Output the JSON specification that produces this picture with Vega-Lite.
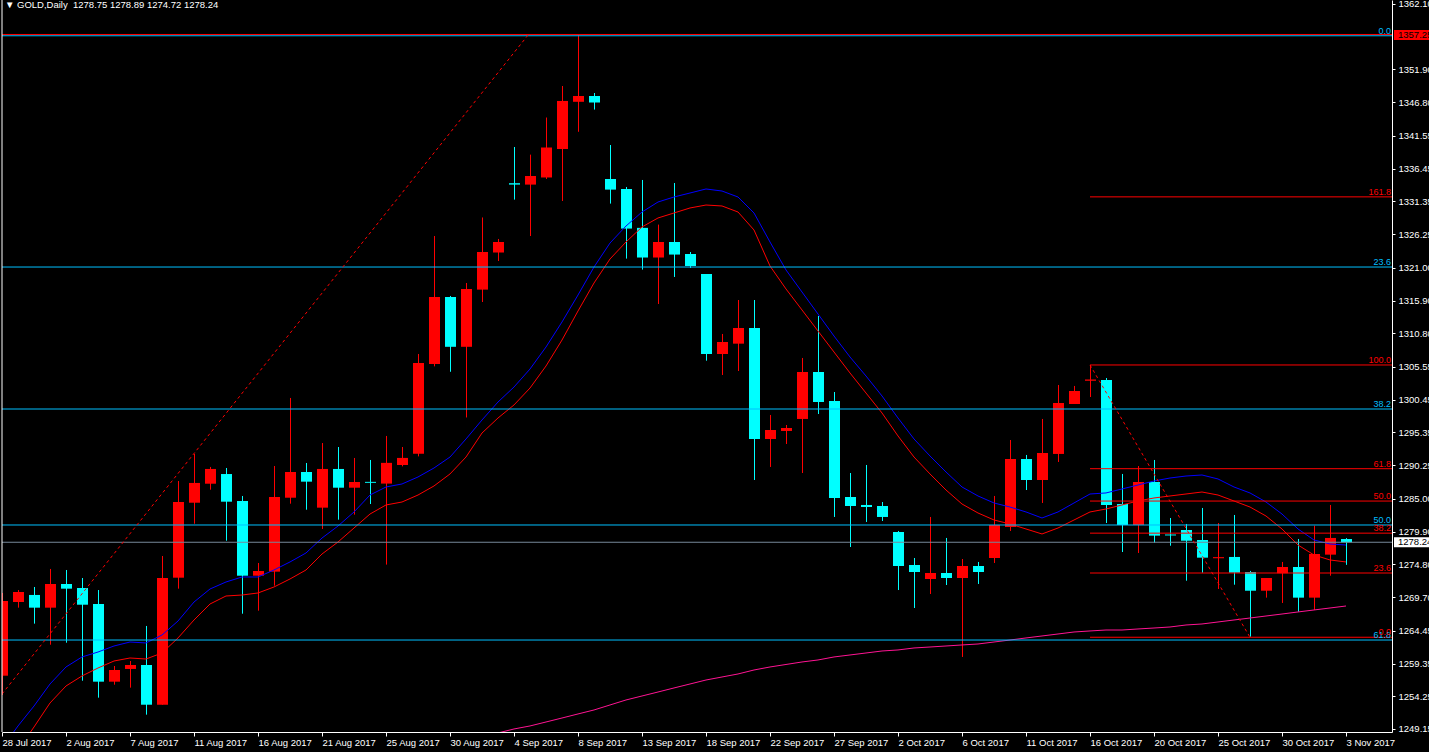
{
  "$schema": "https://vega.github.io/schema/vega-lite/v6.json",
  "width": 1390,
  "height": 732,
  "autosize": {"type": "none"},
  "padding": {"left": 2, "top": 0, "right": 37, "bottom": 20},
  "background": "#000000",
  "config": {"view": {"stroke": null}, "font": "Liberation Sans"},
  "title": {
    "text": "▼ GOLD,Daily\u00a0\u00a01278.75 1278.89 1274.72 1278.24",
    "anchor": "start",
    "orient": "top",
    "frame": "group",
    "offset": -19,
    "baseline": "alphabetic",
    "dx": 3,
    "color": "#FFFFFF",
    "font": "Liberation Sans",
    "fontSize": 9.5,
    "fontWeight": "normal"
  },
  "datasets": {
    "candles": [
      {"i":0,"d":"2017-07-28","o":1257.45,"h":1270.34,"l":1254.45,"c":1269.09,"b":1246.19,"r":1242.76,"m":null},
      {"i":1,"d":"2017-07-30","o":1268.93,"h":1270.80,"l":1268.05,"c":1270.49,"b":1249.62,"r":1245.88,"m":null},
      {"i":2,"d":"2017-07-31","o":1270.03,"h":1271.27,"l":1265.56,"c":1268.05,"b":1252.73,"r":1249.46,"m":null},
      {"i":3,"d":"2017-08-01","o":1268.05,"h":1274.08,"l":1262.28,"c":1271.74,"b":1256.16,"r":1253.20,"m":null},
      {"i":4,"d":"2017-08-02","o":1271.74,"h":1273.92,"l":1262.59,"c":1271.01,"b":1258.81,"r":1255.85,"m":null},
      {"i":5,"d":"2017-08-03","o":1271.11,"h":1272.67,"l":1256.67,"c":1268.51,"b":1260.37,"r":1257.41,"m":null},
      {"i":6,"d":"2017-08-04","o":1268.62,"h":1270.80,"l":1254.03,"c":1256.52,"b":1261.14,"r":1258.65,"m":null},
      {"i":7,"d":"2017-08-06","o":1256.52,"h":1258.96,"l":1256.05,"c":1258.34,"b":1262.08,"r":1259.74,"m":null},
      {"i":8,"d":"2017-08-07","o":1258.50,"h":1259.74,"l":1255.59,"c":1259.12,"b":1262.70,"r":1260.21,"m":null},
      {"i":9,"d":"2017-08-08","o":1259.12,"h":1265.20,"l":1251.38,"c":1252.93,"b":1262.55,"r":1260.05,"m":null},
      {"i":10,"d":"2017-08-09","o":1252.93,"h":1276.10,"l":1252.93,"c":1272.67,"b":1263.79,"r":1260.99,"m":null},
      {"i":11,"d":"2017-08-10","o":1272.72,"h":1287.78,"l":1271.01,"c":1284.51,"b":1265.97,"r":1263.33,"m":null},
      {"i":12,"d":"2017-08-11","o":1284.40,"h":1292.00,"l":1281.13,"c":1287.48,"b":1268.93,"r":1266.13,"m":null},
      {"i":13,"d":"2017-08-13","o":1287.36,"h":1289.97,"l":1286.43,"c":1289.66,"b":1270.96,"r":1268.62,"m":null},
      {"i":14,"d":"2017-08-14","o":1288.87,"h":1289.81,"l":1278.48,"c":1284.56,"b":1272.05,"r":1269.87,"m":null},
      {"i":15,"d":"2017-08-15","o":1284.67,"h":1285.45,"l":1267.11,"c":1273.03,"b":1272.83,"r":1270.02,"m":null},
      {"i":16,"d":"2017-08-16","o":1273.03,"h":1275.01,"l":1267.58,"c":1273.76,"b":1272.83,"r":1270.34,"m":null},
      {"i":17,"d":"2017-08-17","o":1273.66,"h":1290.12,"l":1271.48,"c":1285.29,"b":1273.92,"r":1271.27,"m":null},
      {"i":18,"d":"2017-08-18","o":1285.18,"h":1300.72,"l":1284.25,"c":1289.19,"b":1275.17,"r":1272.52,"m":null},
      {"i":19,"d":"2017-08-20","o":1289.19,"h":1290.59,"l":1283.31,"c":1287.68,"b":1276.57,"r":1273.92,"m":null},
      {"i":20,"d":"2017-08-21","o":1283.63,"h":1293.70,"l":1280.31,"c":1289.66,"b":1278.90,"r":1276.41,"m":null},
      {"i":21,"d":"2017-08-22","o":1289.66,"h":1293.08,"l":1281.76,"c":1286.74,"b":1280.77,"r":1278.28,"m":null},
      {"i":22,"d":"2017-08-23","o":1286.74,"h":1291.37,"l":1282.54,"c":1287.63,"b":1282.96,"r":1280.46,"m":null},
      {"i":23,"d":"2017-08-24","o":1287.65,"h":1291.06,"l":1284.20,"c":1287.50,"b":1285.60,"r":1282.64,"m":null},
      {"i":24,"d":"2017-08-25","o":1287.38,"h":1294.80,"l":1274.76,"c":1290.61,"b":1286.85,"r":1284.05,"m":null},
      {"i":25,"d":"2017-08-27","o":1290.28,"h":1293.08,"l":1290.06,"c":1291.38,"b":1287.32,"r":1284.51,"m":null},
      {"i":26,"d":"2017-08-28","o":1292.01,"h":1307.57,"l":1291.62,"c":1306.18,"b":1288.41,"r":1285.60,"m":null},
      {"i":27,"d":"2017-08-29","o":1306.01,"h":1325.95,"l":1305.64,"c":1316.45,"b":1289.81,"r":1287.01,"m":null},
      {"i":28,"d":"2017-08-30","o":1316.45,"h":1316.61,"l":1304.80,"c":1308.69,"b":1291.52,"r":1288.88,"m":null},
      {"i":29,"d":"2017-08-31","o":1308.69,"h":1318.63,"l":1297.68,"c":1317.70,"b":1294.33,"r":1291.52,"m":null},
      {"i":30,"d":"2017-09-01","o":1317.60,"h":1328.84,"l":1315.67,"c":1323.46,"b":1297.29,"r":1295.26,"m":null},
      {"i":31,"d":"2017-09-03","o":1323.38,"h":1325.49,"l":1322.06,"c":1325.02,"b":1300.09,"r":1297.60,"m":1248.53},
      {"i":32,"d":"2017-09-04","o":1334.18,"h":1339.82,"l":1331.62,"c":1333.96,"b":1302.43,"r":1299.63,"m":1249.15},
      {"i":33,"d":"2017-09-05","o":1333.96,"h":1338.63,"l":1325.95,"c":1335.30,"b":1305.23,"r":1302.27,"m":1249.62},
      {"i":34,"d":"2017-09-06","o":1335.07,"h":1344.41,"l":1334.83,"c":1339.74,"b":1308.66,"r":1305.70,"m":1250.24},
      {"i":35,"d":"2017-09-07","o":1339.51,"h":1349.32,"l":1331.41,"c":1346.99,"b":1312.56,"r":1309.75,"m":1250.86},
      {"i":36,"d":"2017-09-08","o":1346.86,"h":1357.25,"l":1342.19,"c":1347.76,"b":1316.76,"r":1314.27,"m":1251.49},
      {"i":37,"d":"2017-09-10","o":1347.76,"h":1348.23,"l":1345.65,"c":1346.75,"b":1321.12,"r":1318.63,"m":1252.11},
      {"i":38,"d":"2017-09-11","o":1334.83,"h":1340.13,"l":1331.00,"c":1333.18,"b":1324.86,"r":1322.37,"m":1252.89},
      {"i":39,"d":"2017-09-12","o":1333.28,"h":1333.59,"l":1322.43,"c":1327.11,"b":1327.51,"r":1325.02,"m":1253.67},
      {"i":40,"d":"2017-09-13","o":1327.22,"h":1334.68,"l":1320.72,"c":1322.60,"b":1329.69,"r":1327.36,"m":1254.29},
      {"i":41,"d":"2017-09-14","o":1322.60,"h":1327.73,"l":1315.36,"c":1325.02,"b":1331.25,"r":1328.76,"m":1254.91},
      {"i":42,"d":"2017-09-15","o":1325.02,"h":1334.21,"l":1319.57,"c":1323.06,"b":1332.03,"r":1329.54,"m":1255.54},
      {"i":43,"d":"2017-09-17","o":1323.15,"h":1323.46,"l":1320.97,"c":1321.28,"b":1332.65,"r":1330.32,"m":1256.16},
      {"i":44,"d":"2017-09-18","o":1320.03,"h":1320.03,"l":1306.53,"c":1307.57,"b":1333.28,"r":1330.78,"m":1256.78},
      {"i":45,"d":"2017-09-19","o":1307.57,"h":1310.69,"l":1304.30,"c":1309.44,"b":1332.96,"r":1330.63,"m":1257.25},
      {"i":46,"d":"2017-09-20","o":1309.18,"h":1315.98,"l":1304.92,"c":1311.62,"b":1332.03,"r":1329.69,"m":1257.72},
      {"i":47,"d":"2017-09-21","o":1311.62,"h":1315.98,"l":1287.94,"c":1294.33,"b":1329.54,"r":1326.89,"m":1258.34},
      {"i":48,"d":"2017-09-22","o":1294.33,"h":1298.07,"l":1289.97,"c":1295.73,"b":1325.02,"r":1321.28,"m":1258.81},
      {"i":49,"d":"2017-09-24","o":1295.58,"h":1296.51,"l":1293.55,"c":1296.04,"b":1320.66,"r":1317.70,"m":1259.20},
      {"i":50,"d":"2017-09-25","o":1297.45,"h":1306.95,"l":1289.03,"c":1304.77,"b":1317.23,"r":1314.43,"m":1259.59},
      {"i":51,"d":"2017-09-26","o":1304.77,"h":1313.49,"l":1298.22,"c":1300.09,"b":1313.80,"r":1311.15,"m":1259.90},
      {"i":52,"d":"2017-09-27","o":1300.25,"h":1301.65,"l":1282.18,"c":1285.14,"b":1310.37,"r":1307.88,"m":1260.37},
      {"i":53,"d":"2017-09-28","o":1285.29,"h":1289.03,"l":1277.50,"c":1283.89,"b":1307.10,"r":1304.61,"m":1260.68},
      {"i":54,"d":"2017-09-29","o":1284.05,"h":1290.28,"l":1281.40,"c":1283.73,"b":1304.14,"r":1301.49,"m":1260.99},
      {"i":55,"d":"2017-10-01","o":1283.89,"h":1284.51,"l":1281.55,"c":1282.18,"b":1301.03,"r":1298.38,"m":1261.30},
      {"i":56,"d":"2017-10-02","o":1279.84,"h":1280.00,"l":1270.80,"c":1274.54,"b":1297.60,"r":1294.80,"m":1261.46},
      {"i":57,"d":"2017-10-03","o":1274.70,"h":1275.79,"l":1268.00,"c":1273.61,"b":1294.33,"r":1291.52,"m":1261.77},
      {"i":58,"d":"2017-10-04","o":1272.52,"h":1282.18,"l":1270.18,"c":1273.45,"b":1291.68,"r":1288.88,"m":1261.92},
      {"i":59,"d":"2017-10-05","o":1273.45,"h":1278.91,"l":1271.58,"c":1272.67,"b":1289.19,"r":1286.38,"m":1262.08},
      {"i":60,"d":"2017-10-06","o":1272.67,"h":1275.63,"l":1260.37,"c":1274.54,"b":1286.85,"r":1284.20,"m":1262.24},
      {"i":61,"d":"2017-10-08","o":1274.54,"h":1275.17,"l":1271.74,"c":1273.61,"b":1285.45,"r":1282.80,"m":1262.39},
      {"i":62,"d":"2017-10-09","o":1275.79,"h":1285.45,"l":1275.01,"c":1280.93,"b":1284.36,"r":1281.71,"m":1262.70},
      {"i":63,"d":"2017-10-10","o":1280.62,"h":1294.17,"l":1280.00,"c":1291.21,"b":1283.73,"r":1281.09,"m":1263.01},
      {"i":64,"d":"2017-10-11","o":1291.21,"h":1291.84,"l":1286.38,"c":1287.94,"b":1282.96,"r":1280.31,"m":1263.33},
      {"i":65,"d":"2017-10-12","o":1287.94,"h":1297.45,"l":1284.36,"c":1292.15,"b":1282.02,"r":1279.53,"m":1263.64},
      {"i":66,"d":"2017-10-13","o":1292.00,"h":1302.74,"l":1290.75,"c":1299.94,"b":1282.96,"r":1280.46,"m":1263.95},
      {"i":67,"d":"2017-10-15","o":1299.78,"h":1302.59,"l":1299.78,"c":1301.81,"b":1284.36,"r":1281.71,"m":1264.26},
      {"i":68,"d":"2017-10-16","o":1303.40,"h":1305.86,"l":1300.87,"c":1303.60,"b":1285.76,"r":1282.96,"m":1264.42},
      {"i":69,"d":"2017-10-17","o":1303.52,"h":1303.83,"l":1281.24,"c":1284.05,"b":1285.92,"r":1283.42,"m":1264.57},
      {"i":70,"d":"2017-10-18","o":1284.20,"h":1288.88,"l":1276.72,"c":1280.93,"b":1286.54,"r":1284.05,"m":1264.57},
      {"i":71,"d":"2017-10-19","o":1280.93,"h":1290.12,"l":1276.57,"c":1287.63,"b":1287.16,"r":1284.67,"m":1264.73},
      {"i":72,"d":"2017-10-20","o":1287.63,"h":1291.06,"l":1278.17,"c":1279.27,"b":1287.78,"r":1285.14,"m":1264.88},
      {"i":73,"d":"2017-10-22","o":1279.45,"h":1282.02,"l":1277.70,"c":1279.30,"b":1288.25,"r":1285.45,"m":1265.04},
      {"i":74,"d":"2017-10-23","o":1280.15,"h":1281.09,"l":1272.25,"c":1278.48,"b":1288.56,"r":1285.76,"m":1265.35},
      {"i":75,"d":"2017-10-24","o":1278.59,"h":1283.58,"l":1273.50,"c":1275.84,"b":1288.72,"r":1286.07,"m":1265.51},
      {"i":76,"d":"2017-10-25","o":1275.75,"h":1281.24,"l":1270.96,"c":1275.92,"b":1288.10,"r":1285.60,"m":1265.82},
      {"i":77,"d":"2017-10-26","o":1275.95,"h":1282.49,"l":1271.63,"c":1273.50,"b":1286.85,"r":1284.67,"m":1266.13},
      {"i":78,"d":"2017-10-27","o":1273.61,"h":1273.77,"l":1263.53,"c":1270.69,"b":1285.92,"r":1283.73,"m":1266.44},
      {"i":79,"d":"2017-10-29","o":1270.69,"h":1272.67,"l":1269.61,"c":1272.67,"b":1284.51,"r":1282.33,"m":1266.75},
      {"i":80,"d":"2017-10-30","o":1273.41,"h":1275.17,"l":1268.78,"c":1274.39,"b":1282.64,"r":1280.31,"m":1267.06},
      {"i":81,"d":"2017-10-31","o":1274.39,"h":1278.75,"l":1267.42,"c":1269.61,"b":1280.31,"r":1277.81,"m":1267.38},
      {"i":82,"d":"2017-11-01","o":1269.61,"h":1280.82,"l":1267.69,"c":1276.41,"b":1278.59,"r":1276.26,"m":1267.69},
      {"i":83,"d":"2017-11-02","o":1276.31,"h":1284.05,"l":1273.03,"c":1278.91,"b":1277.97,"r":1275.48,"m":1268.00},
      {"i":84,"d":"2017-11-03","o":1278.75,"h":1278.89,"l":1274.72,"c":1278.24,"b":1277.81,"r":1275.17,"m":1268.31}
    ],
    "hfull": [
      {"p":1357.35,"k":"red"},
      {"p":1357.15,"k":"fib"},
      {"p":1321.12,"k":"fib"},
      {"p":1299.00,"k":"fib"},
      {"p":1280.93,"k":"fib"},
      {"p":1263.01,"k":"fib"},
      {"p":1278.24,"k":"price"}
    ],
    "fibred": [
      {"p":1332.05,"t":"161.8","from":68},
      {"p":1305.86,"t":"100.0","from":68},
      {"p":1289.70,"t":"61.8","from":68},
      {"p":1284.66,"t":"50.0","from":68},
      {"p":1279.66,"t":"38.2","from":68},
      {"p":1273.45,"t":"23.6","from":68},
      {"p":1263.44,"t":"0.0","from":68}
    ],
    "fiblabels": [
      {"p":1357.15,"t":"0.0","k":"fib"},
      {"p":1321.12,"t":"23.6","k":"fib"},
      {"p":1299.00,"t":"38.2","k":"fib"},
      {"p":1280.93,"t":"50.0","k":"fib"},
      {"p":1263.01,"t":"61.8","k":"fib"},
      {"p":1332.05,"t":"161.8","k":"red"},
      {"p":1305.86,"t":"100.0","k":"red"},
      {"p":1289.70,"t":"61.8","k":"red"},
      {"p":1284.66,"t":"50.0","k":"red"},
      {"p":1279.66,"t":"38.2","k":"red"},
      {"p":1273.45,"t":"23.6","k":"red"},
      {"p":1263.44,"t":"0.0","k":"red"}
    ],
    "diag": [
      {"g":"a","i":0,"p":1254.60},
      {"g":"a","i":32.875,"p":1357.25},
      {"g":"b","i":68,"p":1305.86},
      {"g":"b","i":78,"p":1263.44}
    ],
    "boxes": [
      {"p":1357.25,"t":"1357.25","k":"red"},
      {"p":1278.24,"t":"1278.24","k":"price"}
    ]
  },
  "layer": [
    {
      "data": {"name": "candles"},
      "mark": {"type": "rule", "strokeWidth": 1, "xOffset": 0.5, "clip": true},
      "encoding": {
        "x": {
          "field": "i", "type": "quantitative",
          "scale": {"domain": [0, 86.875], "nice": false, "zero": false, "padding": 0},
          "axis": {
            "orient": "bottom", "title": null, "grid": false,
            "values": [0,4,8,12,16,20,24,28,32,36,40,44,48,52,56,60,64,68,72,76,80,84],
            "labelExpr": "['28 Jul 2017','2 Aug 2017','7 Aug 2017','11 Aug 2017','16 Aug 2017','21 Aug 2017','25 Aug 2017','30 Aug 2017','4 Sep 2017','8 Sep 2017','13 Sep 2017','18 Sep 2017','22 Sep 2017','27 Sep 2017','2 Oct 2017','6 Oct 2017','11 Oct 2017','16 Oct 2017','20 Oct 2017','25 Oct 2017','30 Oct 2017','3 Nov 2017'][round(datum.value/4)]",
            "domainColor": "#FFFFFF", "tickColor": "#FFFFFF", "tickSize": 4,
            "labelColor": "#FFFFFF", "labelFont": "Liberation Sans", "labelFontSize": 9.5,
            "labelAlign": "left", "labelBaseline": "top", "labelPadding": 1, "labelDx": 1,
            "labelOverlap": false, "labelFlush": false, "labelBound": false
          }
        },
        "y": {
          "field": "l", "type": "quantitative",
          "scale": {"domain": [1248.68, 1362.72], "nice": false, "zero": false, "padding": 0},
          "axis": {
            "orient": "right", "title": null, "grid": false,
            "values": [1249.15,1254.25,1259.35,1264.45,1269.70,1274.80,1279.90,1285.00,1290.25,1295.35,1300.45,1305.55,1310.80,1315.90,1321.00,1326.25,1331.35,1336.45,1341.55,1346.80,1351.90,1362.10],
            "format": ".2f",
            "domainColor": "#FFFFFF", "tickColor": "#FFFFFF", "tickSize": 3,
            "labelColor": "#FFFFFF", "labelFont": "Liberation Sans", "labelFontSize": 9.5,
            "labelAlign": "left", "labelBaseline": "middle", "labelPadding": 3,
            "labelOverlap": false, "labelFlush": false, "labelBound": false
          }
        },
        "y2": {"field": "h"},
        "color": {"condition": {"test": "datum.c > datum.o", "value": "#FF0000"}, "value": "#00FFFF"}
      }
    },
    {
      "data": {"name": "candles"},
      "mark": {"type": "bar", "size": 11, "xOffset": 0.5, "clip": true},
      "encoding": {
        "x": {"field": "i", "type": "quantitative", "axis": null},
        "y": {"field": "o", "type": "quantitative", "axis": null},
        "y2": {"field": "c"},
        "color": {"condition": {"test": "datum.c > datum.o", "value": "#FF0000"}, "value": "#00FFFF"}
      }
    },
    {
      "data": {"name": "candles"},
      "mark": {"type": "line", "color": "#0000FF", "strokeWidth": 1, "clip": true},
      "encoding": {
        "x": {"field": "i", "type": "quantitative", "axis": null},
        "y": {"field": "b", "type": "quantitative", "axis": null}
      }
    },
    {
      "data": {"name": "candles"},
      "mark": {"type": "line", "color": "#FF0000", "strokeWidth": 1, "clip": true},
      "encoding": {
        "x": {"field": "i", "type": "quantitative", "axis": null},
        "y": {"field": "r", "type": "quantitative", "axis": null}
      }
    },
    {
      "data": {"name": "candles"},
      "transform": [{"filter": "datum.m != null"}],
      "mark": {"type": "line", "color": "#FF1493", "strokeWidth": 1, "clip": true},
      "encoding": {
        "x": {"field": "i", "type": "quantitative", "axis": null},
        "y": {"field": "m", "type": "quantitative", "axis": null}
      }
    },
    {
      "data": {"name": "hfull"},
      "mark": {"type": "rule", "strokeWidth": 1},
      "encoding": {
        "y": {"field": "p", "type": "quantitative", "axis": null},
        "color": {"field": "k", "type": "nominal", "legend": null,
          "scale": {"domain": ["fib", "red", "price"], "range": ["#00BFFF", "#FF0000", "#778899"]}}
      }
    },
    {
      "data": {"name": "fibred"},
      "mark": {"type": "rule", "strokeWidth": 1, "color": "#FF0000"},
      "encoding": {
        "x": {"field": "from", "type": "quantitative", "axis": null},
        "x2": {"datum": 86.875},
        "y": {"field": "p", "type": "quantitative", "axis": null}
      }
    },
    {
      "data": {"name": "diag"},
      "mark": {"type": "line", "color": "#FF0000", "strokeWidth": 1, "strokeDash": [3, 3], "clip": true},
      "encoding": {
        "x": {"field": "i", "type": "quantitative", "axis": null},
        "y": {"field": "p", "type": "quantitative", "axis": null},
        "detail": {"field": "g"}
      }
    },
    {
      "data": {"name": "fiblabels"},
      "mark": {"type": "text", "align": "right", "baseline": "alphabetic", "dx": -1, "dy": -2, "font": "Liberation Sans", "fontSize": 9},
      "encoding": {
        "x": {"datum": 86.875, "type": "quantitative", "axis": null},
        "y": {"field": "p", "type": "quantitative", "axis": null},
        "text": {"field": "t"},
        "color": {"field": "k", "type": "nominal", "legend": null,
          "scale": {"domain": ["fib", "red", "price"], "range": ["#00BFFF", "#FF0000", "#778899"]}}
      }
    },
    {
      "data": {"name": "boxes"},
      "mark": {"type": "rect", "xOffset": 2, "x2Offset": 40, "yOffset": -5, "y2Offset": 5},
      "encoding": {
        "x": {"datum": 86.875, "type": "quantitative", "axis": null},
        "x2": {"datum": 86.875},
        "y": {"field": "p", "type": "quantitative", "axis": null},
        "y2": {"field": "p"},
        "color": {"field": "k", "type": "nominal", "legend": null,
          "scale": {"domain": ["red", "price"], "range": ["#FF0000", "#FFFFFF"]}}
      }
    },
    {
      "data": {"name": "boxes"},
      "mark": {"type": "text", "align": "left", "baseline": "middle", "dx": 6, "color": "#000000", "font": "Liberation Sans", "fontSize": 9.5},
      "encoding": {
        "x": {"datum": 86.875, "type": "quantitative", "axis": null},
        "y": {"field": "p", "type": "quantitative", "axis": null},
        "text": {"field": "t"}
      }
    },
    {
      "data": {"values": [{}]},
      "mark": {"type": "rule", "color": "#FFFFFF", "strokeWidth": 1},
      "encoding": {
        "x": {"datum": 0, "type": "quantitative", "axis": null}
      }
    }
  ],
  "resolve": {"scale": {"color": "independent"}, "axis": {"x": "independent", "y": "independent"}}
}
